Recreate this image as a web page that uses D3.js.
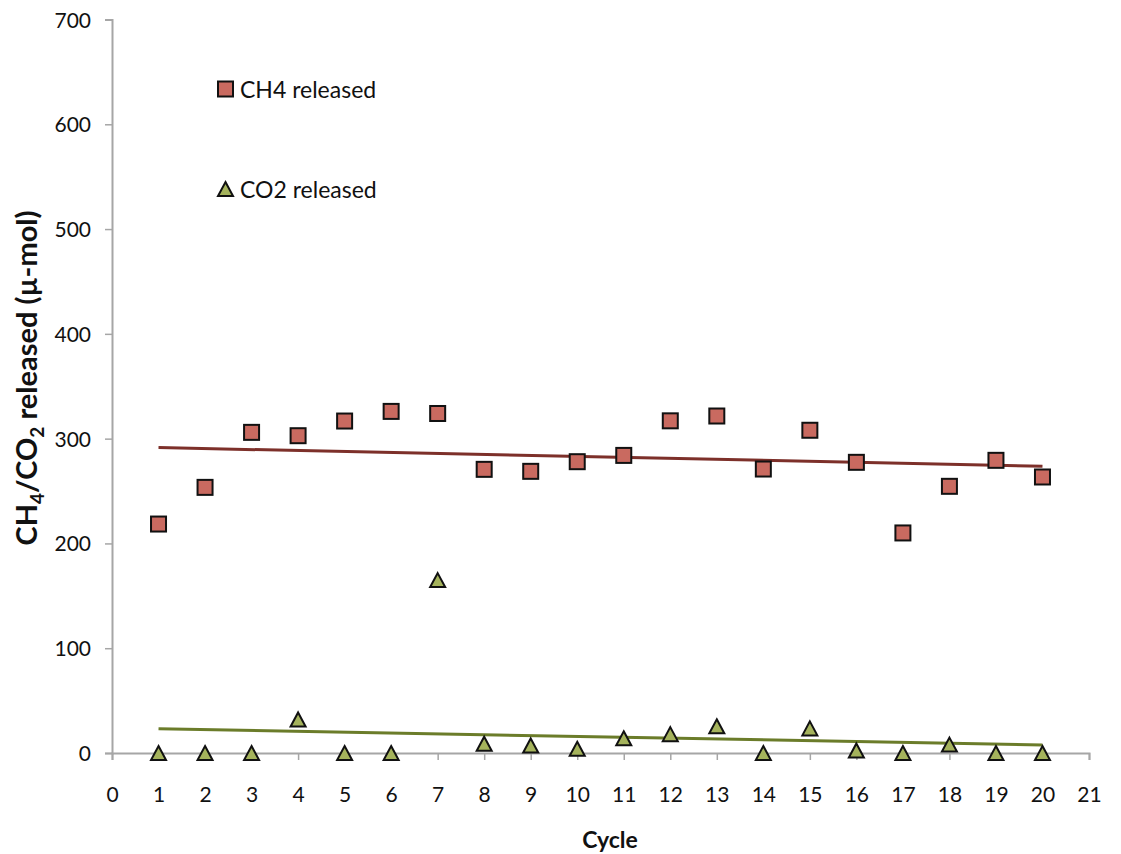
<!DOCTYPE html>
<html>
<head>
<meta charset="utf-8">
<script src="https://cdn.jsdelivr.net/npm/d3@7"></script>
<style>
  body { margin: 0; background: #fff; }
  svg { display: block; font-family: Lato, "Open Sans", sans-serif; }
</style>
</head>
<body>
<svg id="chart" width="1121" height="854"></svg>
<script>
const cycles = [1,2,3,4,5,6,7,8,9,10,11,12,13,14,15,16,17,18,19,20];
const ch4Released = [218.5,253.5,306,302.8,316.8,326,324,270.7,268.8,278,284,317,321.6,271,308,277.4,210,254.5,279.3,263.4];
const co2Released = [0,0,0,32,0,0,165,8.9,7.2,4,14,18,25.5,0,23.5,2.4,0,8,0,0];
const xTicks = d3.range(0, 22);
const yTicks = [0,100,200,300,400,500,600,700];

const svg = d3.select("#chart");
const x = d3.scaleLinear().domain([0, 21]).range([112, 1089]);
const y = d3.scaleLinear().domain([0, 700]).range([753, 19.5]);

const axisColor = "#a6a6a6";
const fontFam = "Lato, 'Open Sans', sans-serif";

const yAxis = svg.append("g").attr("transform", `translate(${x(0)},0)`)
  .call(d3.axisLeft(y).tickValues(yTicks).tickSize(7).tickPadding(14).tickFormat(d3.format("d")));
const xAxis = svg.append("g").attr("transform", `translate(0,${y(0)})`)
  .call(d3.axisBottom(x).tickValues(xTicks).tickSize(7).tickPadding(27).tickFormat(d3.format("d")));
[yAxis, xAxis].forEach(g => {
  g.selectAll(".domain").attr("stroke", axisColor).attr("stroke-width", 2);
  g.selectAll(".tick line").attr("stroke", axisColor).attr("stroke-width", 1.5);
  g.selectAll(".tick text").attr("fill", "#111").style("font-size", "21px").style("font-family", fontFam);
});
yAxis.selectAll(".tick text").attr("dy", "0.36em");

function regression(xs, ys) {
  const n = xs.length;
  const mx = d3.mean(xs), my = d3.mean(ys);
  let sxy = 0, sxx = 0;
  for (let i = 0; i < n; i++) { sxy += (xs[i]-mx)*(ys[i]-my); sxx += (xs[i]-mx)**2; }
  const b = sxy / sxx, a = my - b*mx;
  return v => a + b*v;
}
const series = [
  {name: "CH4 released", values: ch4Released, fill: "#c96a60", trend: "#7d302a", shape: "square"},
  {name: "CO2 released", values: co2Released, fill: "#a5b35c", trend: "#6b7c2a", shape: "triangle"}
];

series.forEach(s => {
  const f = regression(cycles, s.values);
  const x0 = d3.min(cycles), x1 = d3.max(cycles);
  svg.append("line")
    .attr("x1", x(x0)).attr("y1", y(f(x0)))
    .attr("x2", x(x1)).attr("y2", y(f(x1)))
    .attr("stroke", s.trend).attr("stroke-width", 3);
});

const sq = 15, triW = 15, triH = 14;
function drawMarker(g, shape, cx, cy, fill) {
  if (shape === "square") {
    g.append("rect").attr("x", cx - sq/2).attr("y", cy - sq/2).attr("width", sq).attr("height", sq)
      .attr("fill", fill).attr("stroke", "#111").attr("stroke-width", 2);
  } else {
    g.append("path")
      .attr("d", `M${cx},${cy - triH/2}L${cx + triW/2},${cy + triH/2}L${cx - triW/2},${cy + triH/2}Z`)
      .attr("fill", fill).attr("stroke", "#111").attr("stroke-width", 2);
  }
}

[series[1], series[0]].forEach(s => {
  const g = svg.append("g");
  s.values.forEach((v, i) => drawMarker(g, s.shape, x(cycles[i]), y(v), s.fill));
});

const legendPos = [{y: 89}, {y: 189}];
series.forEach((s, i) => {
  const g = svg.append("g");
  drawMarker(g, s.shape, 225.5, legendPos[i].y, s.fill);
  g.append("text").attr("x", 240).attr("y", legendPos[i].y + 9)
    .style("font-size", "23px").attr("fill", "#111").text(s.name);
});

svg.append("text").attr("x", 610).attr("y", 848).attr("text-anchor", "middle")
  .style("font-size", "23px").style("font-weight", "bold").attr("fill", "#111").text("Cycle");

const yt = svg.append("text").attr("transform", "translate(37,378) rotate(-90)")
  .attr("text-anchor", "middle").style("font-size", "29px").style("font-weight", "bold").attr("fill", "#111");
yt.append("tspan").text("CH");
yt.append("tspan").attr("dy", 7).style("font-size", "19px").text("4");
yt.append("tspan").attr("dy", -7).text("/CO");
yt.append("tspan").attr("dy", 7).style("font-size", "19px").text("2");
yt.append("tspan").attr("dy", -7).text(" released (µ-mol)");
</script>
</body>
</html>
